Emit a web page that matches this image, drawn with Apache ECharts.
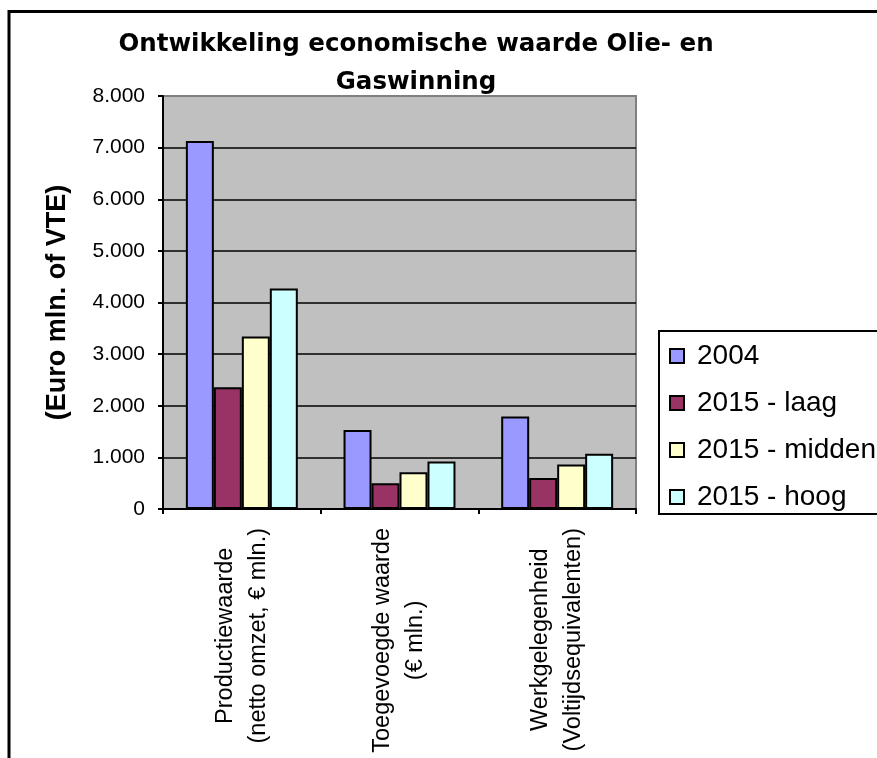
<!DOCTYPE html>
<html><head><meta charset="utf-8">
<script src="https://cdn.jsdelivr.net/npm/echarts@6/dist/echarts.min.js"></script>
<style>html,body{margin:0;padding:0;background:#fff;overflow:hidden}#c{width:877px;height:758px}</style>
</head><body><div id="c"></div>
<script>
const titleText = 'Ontwikkeling economische waarde Olie- en\nGaswinning';
const yAxisName = '(Euro mln. of VTE)';
const categories = ['Productiewaarde\n(netto omzet, € mln.)', 'Toegevoegde waarde\n(€ mln.)', 'Werkgelegenheid\n(Voltijdsequivalenten)'];
const seriesNames = ['2004', '2015 - laag', '2015 - midden', '2015 - hoog'];
const values2004 = [7130, 1530, 1790];
const valuesLaag = [2360, 500, 600];
const valuesMidden = [3340, 710, 860];
const valuesHoog = [4270, 920, 1070];
const seriesColors = ['#9999FF', '#993366', '#FFFFCC', '#CCFFFF'];
const yMin = 0, yMax = 8000, yStep = 1000;

const allValues = [values2004, valuesLaag, valuesMidden, valuesHoog];
const fmt = v => String(v).replace(/\B(?=(\d{3})+(?!\d))/g, '.');

const chart = echarts.init(document.getElementById('c'), null, {renderer: 'canvas'});
chart.setOption({
  animation: false,
  backgroundColor: '#ffffff',
  graphic: [{
    type: 'rect', z: -10,
    shape: {x: 9, y: 11.5, width: 1000, height: 1000},
    style: {fill: 'none', stroke: '#000', lineWidth: 3}
  }],
  title: {
    text: titleText,
    left: 416, top: 26, textAlign: 'center', padding: 0,
    textStyle: {fontFamily: 'DejaVu Sans', fontWeight: 'bold', fontSize: 24.5, lineHeight: 38, color: '#000'}
  },
  legend: {
    orient: 'vertical',
    left: 659, top: 331,
    padding: [10, 60, 2, 10],
    backgroundColor: '#fff',
    borderColor: '#000', borderWidth: 2,
    itemWidth: 14, itemHeight: 14, itemGap: 17,
    icon: 'rect',
    itemStyle: {borderColor: '#000', borderWidth: 2},
    textStyle: {fontFamily: 'Liberation Sans', fontSize: 28, lineHeight: 30, color: '#000', padding: [0, 0, 0, 8]},
    data: seriesNames
  },
  grid: {
    left: 163, right: 241, top: 96, bottom: 249,
    containLabel: false, outerBoundsMode: 'none',
    show: true, backgroundColor: '#C0C0C0', borderColor: '#808080', borderWidth: 2
  },
  xAxis: {
    type: 'category', data: categories,
    axisLine: {lineStyle: {color: '#000', width: 2}},
    axisTick: {show: true, length: 5, lineStyle: {color: '#000', width: 2}},
    axisLabel: {
      rotate: 90, margin: 19, interval: 0,
      fontFamily: 'Liberation Sans', fontSize: 23.5, lineHeight: 33, color: '#000',
      formatter: v => v.split('\n').map(s => '{a|' + s + '}').join('\n'),
      rich: {a: {align: 'center', fontFamily: 'Liberation Sans', fontSize: 23.5, lineHeight: 33, color: '#000'}}
    }
  },
  yAxis: {
    type: 'value', min: yMin, max: yMax, interval: yStep,
    name: yAxisName, nameLocation: 'middle', nameGap: 92,
    nameTextStyle: {fontFamily: 'Liberation Sans', fontWeight: 'bold', fontSize: 27, color: '#000'},
    axisLine: {show: true, lineStyle: {color: '#000', width: 2}},
    axisTick: {show: true, length: 5, lineStyle: {color: '#000', width: 2}},
    axisLabel: {margin: 18, fontFamily: 'Liberation Sans', fontSize: 21, color: '#000', formatter: fmt},
    splitLine: {show: true, showMaxLine: false, lineStyle: {color: '#000', width: 1.5}}
  },
  series: seriesNames.map((n, i) => ({
    name: n, type: 'bar', data: allValues[i],
    barGap: '0%', barCategoryGap: '29%',
    itemStyle: {color: seriesColors[i], borderColor: '#000', borderWidth: 2}
  }))
});
</script></body></html>
